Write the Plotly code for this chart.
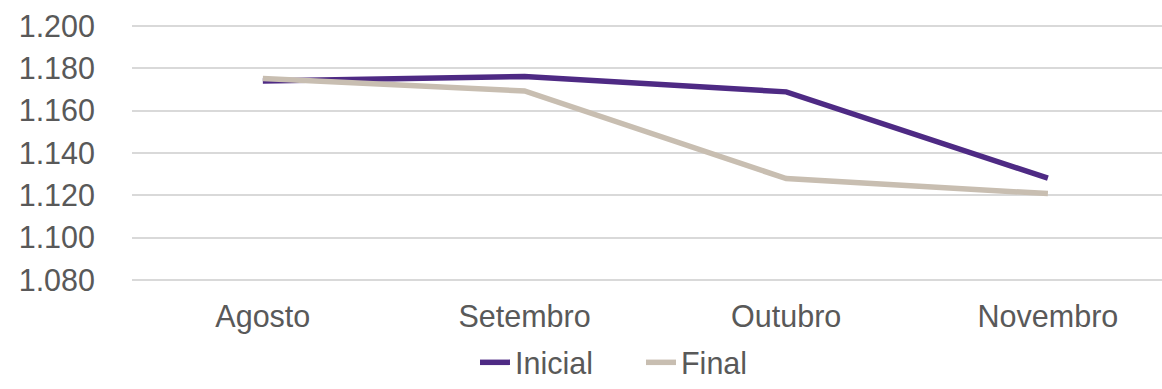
import plotly.graph_objects as go

categories = ["Agosto", "Setembro", "Outubro", "Novembro"]
inicial = [1.174, 1.1762, 1.1689, 1.1281]
final = [1.1752, 1.1693, 1.1279, 1.1208]
y_ticks = [1.08, 1.10, 1.12, 1.14, 1.16, 1.18, 1.20]
y_tick_labels = ["1.080", "1.100", "1.120", "1.140", "1.160", "1.180", "1.200"]

font = dict(family="Liberation Sans, Arial, sans-serif", size=30.5, color="#595959")

fig = go.Figure()
fig.add_trace(go.Scatter(x=categories, y=inicial, mode="lines", name="Inicial",
                         line=dict(color="#4E2A84", width=5.5)))
fig.add_trace(go.Scatter(x=categories, y=final, mode="lines", name="Final",
                         line=dict(color="#C8BEB1", width=5.5)))

fig.update_layout(
    width=1162, height=389,
    margin=dict(l=132, r=0, t=25, b=108, autoexpand=False),
    paper_bgcolor="white", plot_bgcolor="white",
    font=font,
    showlegend=True,
    legend=dict(orientation="h", x=0.333, xanchor="left",
                yref="container", y=-0.02, yanchor="bottom",
                font=font, entrywidth=121, entrywidthmode="pixels",
                bgcolor="rgba(0,0,0,0)", borderwidth=0),
)
fig.update_xaxes(type="category", range=[-0.5, 3.436], showgrid=False, showline=False,
                 zeroline=False, ticks="", ticklabelstandoff=14, tickfont=font,
                 automargin=False)
fig.update_yaxes(range=[1.0795, 1.2005], tickvals=y_ticks, ticktext=y_tick_labels,
                 showgrid=True, gridcolor="#D9D9D9", gridwidth=1.5, zeroline=False,
                 showline=False, ticks="", ticklabelstandoff=36, tickfont=font,
                 automargin=False)

fig.write_html("out.html")
